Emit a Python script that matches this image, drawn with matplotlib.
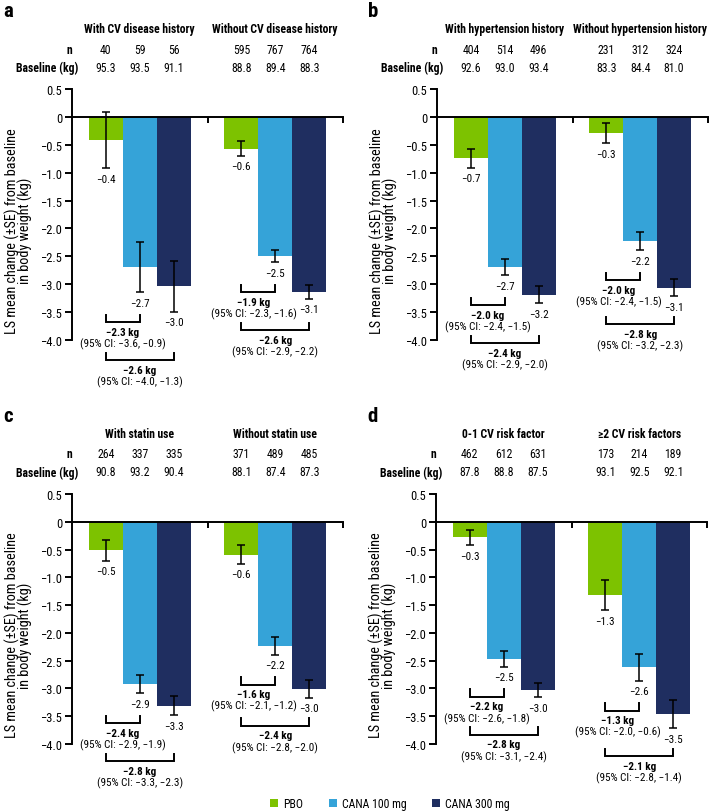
import matplotlib.pyplot as plt
from matplotlib.patches import Patch

plt.rcParams['font.family'] = ['Roboto Condensed', 'DejaVu Sans']
plt.rcParams['font.stretch'] = 'condensed'

arms = ['PBO', 'CANA 100 mg', 'CANA 300 mg']
colors = ['#7dc200', '#35a3d8', '#1f2e60']

# a: CV disease history
a_groups = ['With CV disease history', 'Without CV disease history']
a_n = [[40, 59, 56], [595, 767, 764]]
a_base = [[95.3, 93.5, 91.1], [88.8, 89.4, 88.3]]
a_mean = [[-0.42, -2.69, -3.04], [-0.57, -2.50, -3.14]]
a_se = [[0.50, 0.45, 0.45], [0.13, 0.11, 0.12]]
a_diff = [[-2.3, -2.6], [-1.9, -2.6]]
a_ci = [[(-3.6, -0.9), (-4.0, -1.3)], [(-2.3, -1.6), (-2.9, -2.2)]]

# b: hypertension history
b_groups = ['With hypertension history', 'Without hypertension history']
b_n = [[404, 514, 496], [231, 312, 324]]
b_base = [[92.6, 93.0, 93.4], [83.3, 84.4, 81.0]]
b_mean = [[-0.74, -2.69, -3.19], [-0.29, -2.23, -3.06]]
b_se = [[0.17, 0.15, 0.15], [0.18, 0.16, 0.16]]
b_diff = [[-2.0, -2.4], [-2.0, -2.8]]
b_ci = [[(-2.4, -1.5), (-2.9, -2.0)], [(-2.4, -1.5), (-3.2, -2.3)]]

# c: statin use
c_groups = ['With statin use', 'Without statin use']
c_n = [[264, 337, 335], [371, 489, 485]]
c_base = [[90.8, 93.2, 90.4], [88.1, 87.4, 87.3]]
c_mean = [[-0.51, -2.92, -3.31], [-0.59, -2.23, -3.01]]
c_se = [[0.19, 0.17, 0.17], [0.17, 0.16, 0.16]]
c_diff = [[-2.4, -2.8], [-1.6, -2.4]]
c_ci = [[(-2.9, -1.9), (-3.3, -2.3)], [(-2.1, -1.2), (-2.8, -2.0)]]

# d: CV risk factors
d_groups = ['0-1 CV risk factor', '\u22652 CV risk factors']
d_n = [[462, 612, 631], [173, 214, 189]]
d_base = [[87.8, 88.8, 87.5], [93.1, 92.5, 92.1]]
d_mean = [[-0.28, -2.47, -3.03], [-1.32, -2.62, -3.46]]
d_se = [[0.14, 0.14, 0.13], [0.27, 0.24, 0.26]]
d_diff = [[-2.2, -2.8], [-1.3, -2.1]]
d_ci = [[(-2.6, -1.8), (-3.1, -2.4)], [(-2.0, -0.6), (-2.8, -1.4)]]

yticks = [-4.0, -3.5, -3.0, -2.5, -2.0, -1.5, -1.0, -0.5, 0, 0.5]

panels = [
    ('a', (72, 90, 343, 341), a_groups, a_n, a_base, a_mean, a_se, a_diff, a_ci),
    ('b', (437, 90, 708, 341), b_groups, b_n, b_base, b_mean, b_se, b_diff, b_ci),
    ('c', (72, 495, 343, 745), c_groups, c_n, c_base, c_mean, c_se, c_diff, c_ci),
    ('d', (436, 495, 707, 745), d_groups, d_n, d_base, d_mean, d_se, d_diff, d_ci),
]

W, H = 710, 812
fig = plt.figure(figsize=(W / 100, H / 100), dpi=100)


def fmt(v):
    s = f'{v:.1f}'
    if s == '0.0':
        return '0'
    return s.replace('-', '\u2212')


for letter, (l, t, r, b), groups, ns, bases, means, ses, diffs, cis in panels:
    ax = fig.add_axes([l / W, 1 - b / H, (r - l) / W, (b - t) / H])
    u = 4.5 / (b - t)  # data units per pixel
    ax.set_xlim(0, 2)
    ax.set_ylim(-4.0, 0.5)
    for gi in range(2):
        xs = [gi + 0.25, gi + 0.5, gi + 0.75]
        ax.bar(xs, means[gi], width=0.25, color=colors, zorder=2)
        ax.errorbar(xs, means[gi], yerr=ses[gi], fmt='none', ecolor='black',
                    elinewidth=1.1, capsize=3.2, capthick=1.1, zorder=3)
        bottoms = [m - s for m, s in zip(means[gi], ses[gi])]
        for x, m, bt in zip(xs, means[gi], bottoms):
            ax.text(x, bt - 10.5 * u, fmt(m), ha='center', va='center', fontsize=8)

        # header rows
        ax.text(gi + 0.5, 0.5 + 61 * u, groups[gi], ha='center', va='center',
                fontsize=8.4, fontweight='bold', clip_on=False)
        for x, nv, bv in zip(xs, ns[gi], bases[gi]):
            ax.text(x, 0.5 + 40 * u, str(nv), ha='center', va='center', fontsize=8.5, clip_on=False)
            ax.text(x, 0.5 + 22 * u, f'{bv:.1f}', ha='center', va='center', fontsize=8.5, clip_on=False)

        # comparison brackets
        y1 = min(bottoms[0], bottoms[1]) - 30 * u
        y2 = min(y1 - 38 * u, bottoms[2] - 28 * u)
        tick = 7.5 * u
        for k, (yb, xe) in enumerate([(y1, xs[1]), (y2, xs[2])]):
            x0 = xs[0]
            ax.plot([x0, x0, xe, xe], [yb + tick, yb, yb, yb + tick], color='black',
                    lw=1.4, clip_on=False, solid_joinstyle='miter')
            xc = (x0 + xe) / 2
            if k == 0 and gi == 1:
                xc -= 0.033
            lo, hi = cis[gi][k]
            ax.text(xc, yb - 9.5 * u, fmt(diffs[gi][k]) + ' kg', ha='center', va='center',
                    fontsize=8, fontweight='bold', clip_on=False)
            ax.text(xc, yb - 21 * u, f'(95% CI: {fmt(lo)}, {fmt(hi)})', ha='center',
                    va='center', fontsize=8, clip_on=False)

    ax.text(-0.02, 0.5 + 40 * u, 'n', ha='center', va='center', fontsize=8.5,
            fontweight='bold', clip_on=False)
    ax.text(0.05, 0.5 + 22 * u, 'Baseline (kg)', ha='right', va='center', fontsize=8.5,
            fontweight='bold', clip_on=False)

    ax.spines['top'].set_visible(False)
    ax.spines['right'].set_visible(False)
    ax.spines['bottom'].set_position(('data', 0))
    ax.spines['left'].set_linewidth(1.4)
    ax.spines['bottom'].set_linewidth(1.4)
    ax.spines['bottom'].set_zorder(4)
    ax.set_xticks([1, 2])
    ax.set_xticklabels(['', ''])
    ax.tick_params(axis='x', length=4, width=1.4, direction='out')
    ax.set_yticks(yticks)
    ax.set_yticklabels([fmt(v) for v in yticks])
    ax.tick_params(axis='y', length=5, width=1.4, labelsize=9, pad=2)
    ax.set_ylabel('LS mean change (\u00b1SE) from baseline\nin body weight (kg)',
                  fontsize=10.3, ha='center', va='center', linespacing=0.85)
    ax.yaxis.set_label_coords(-0.196, 0.438)

    fig.text((l - 69) / W, 1 - (t - 73) / H, letter, fontsize=15, fontweight='bold',
             ha='left', va='baseline')

handles = [Patch(facecolor=c) for c in colors]
fig.legend(handles, arms, loc='center', bbox_to_anchor=(390 / W, 1 - 805 / H), ncol=3,
           frameon=False, fontsize=8.5, handlelength=0.68, handleheight=0.68,
           handletextpad=0.42, columnspacing=2.2)

fig.savefig('out.png', dpi=100)
